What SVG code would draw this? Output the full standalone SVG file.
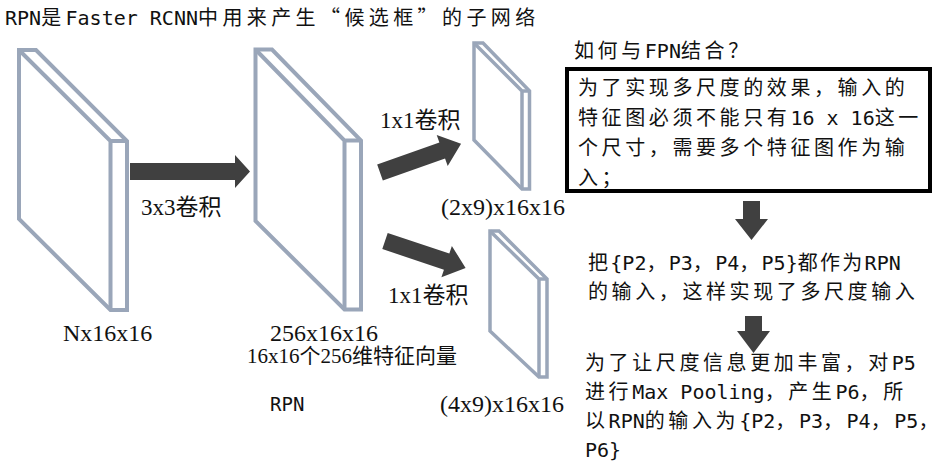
<svg xmlns="http://www.w3.org/2000/svg" width="947" height="466" viewBox="0 0 947 466">
<style>
.slab{fill:#fff;stroke:#9AA6B9;stroke-width:4;stroke-linejoin:miter}
.sm{stroke-width:3.5}
.ln{fill:none}
.arr{fill:#404040}
.s{font-family:"Noto Sans CJK SC",sans-serif;font-size:20px;letter-spacing:3.6px;fill:#111}
.l{font-family:"DejaVu Sans Mono","Noto Sans CJK SC",monospace;letter-spacing:0}
.t{font-family:"Liberation Serif","Noto Sans CJK SC",serif;font-size:23px;fill:#111}
.box{fill:#fff;stroke:#000;stroke-width:4}
</style>
<rect width="947" height="466" fill="#fff"/>
<g id="title">
<text class="s" x="5" y="25" style="letter-spacing:4.4px"><tspan class="l">RPN</tspan>是<tspan class="l">Faster RCNN</tspan>中用来产生“候选框”的子网络</text>
</g>
<g id="input-map">
<polygon class="slab" points="19,50 36,50 127,141 127,310 110.5,310 19,219"/>
<path class="slab ln" d="M19,50 L110.5,141 V310 M110.5,141 H127"/>
<text class="t" x="63" y="341" style="font-size:24px">Nx16x16</text>
</g>
<g id="rpn-map">
<polygon class="slab" points="255.5,49.5 272,49.5 361,140.5 361,309.5 344.5,309.5 255.5,221"/>
<path class="slab ln" d="M255.5,49.5 L344.5,140.5 V309.5 M344.5,140.5 H361"/>
<text class="t" x="270" y="341" style="font-size:24px">256x16x16</text>
<text class="t" x="247" y="363" style="font-size:21px">16x16个256维特征向量</text>
<text class="s" x="270" y="411"><tspan class="l" style="font-size:19px">RPN</tspan></text>
</g>
<g id="cls-map">
<polygon class="slab sm" points="474,43 483,43 529.5,91 529.5,189 522,189 474,140"/>
<path class="slab sm ln" d="M474,43 L522,91 V189 M522,91 H529.5"/>
<text class="t" x="441" y="215" style="font-size:24px">(2x9)x16x16</text>
</g>
<g id="reg-map">
<polygon class="slab sm" points="490,231 499,231 547,279 547,377 539,377 490,331"/>
<path class="slab sm ln" d="M490,231 L539,279 V377 M539,279 H547"/>
<text class="t" x="440" y="412" style="font-size:24px">(4x9)x16x16</text>
</g>
<g id="fpn-question">
<text class="s" x="574" y="58">如何与<tspan class="l">FPN</tspan>结合？</text>
<rect class="box" x="567" y="69" width="363" height="122"/>
<text class="s" x="578" y="95">为了实现多尺度的效果，输入的</text>
<text class="s" x="578" y="125">特征图必须不能只有<tspan class="l">16 x 16</tspan>这一</text>
<text class="s" x="578" y="155">个尺寸，需要多个特征图作为输</text>
<text class="s" x="578" y="185">入；</text>
</g>
<g id="step2">
<text class="s" x="588" y="270" style="letter-spacing:2.3px">把<tspan class="l">{P2</tspan>，<tspan class="l">P3</tspan>，<tspan class="l">P4</tspan>，<tspan class="l">P5}</tspan>都作为<tspan class="l">RPN</tspan></text>
<text class="s" x="588" y="299">的输入，这样实现了多尺度输入</text>
</g>
<g id="step3">
<text class="s" x="585" y="370">为了让尺度信息更加丰富，对<tspan class="l">P5</tspan></text>
<text class="s" x="585" y="399">进行<tspan class="l">Max Pooling</tspan>，产生<tspan class="l">P6</tspan>，所</text>
<text class="s" x="585" y="428">以<tspan class="l">RPN</tspan>的输入为<tspan class="l">{P2</tspan>，<tspan class="l">P3</tspan>，<tspan class="l">P4</tspan>，<tspan class="l">P5</tspan>，</text>
<text class="s" x="585" y="457"><tspan class="l">P6}</tspan></text>
</g>
<g id="connectors">
<path class="arr" d="M130,163 H235 V155 L250,171.5 L235,188 V180 H130 Z"/>
<text class="t" x="141" y="215">3x3卷积</text>
<path class="arr" transform="translate(380,172.5) rotate(-19.5)" d="M0,-8.5 H66 V-16.5 L86,0 L66,16.5 V8.5 H0 Z"/>
<text class="t" x="380" y="128">1x1卷积</text>
<path class="arr" transform="translate(385,241) rotate(18.5)" d="M0,-8.5 H65 V-16.5 L85,0 L65,16.5 V8.5 H0 Z"/>
<text class="t" x="388" y="303">1x1卷积</text>
<path class="arr" d="M743,201 H760 V219 H768 L751.5,240 L735,219 H743 Z"/>
<path class="arr" d="M745,316 H762 V331 H770 L753.5,353 L737,331 H745 Z"/>
</g>
</svg>
